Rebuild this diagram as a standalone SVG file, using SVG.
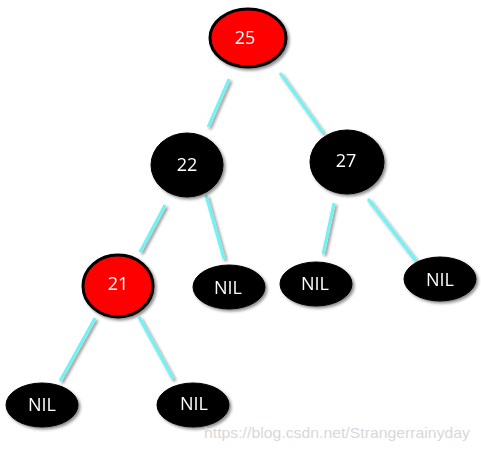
<svg xmlns="http://www.w3.org/2000/svg" width="481" height="450" viewBox="0 0 481 450">
<defs>
<filter id="sh" x="-30%" y="-30%" width="160%" height="160%">
<feDropShadow dx="2" dy="2" stdDeviation="1.5" flood-color="#000" flood-opacity="0.45"/>
</filter>
</defs>
<style>
.red{fill:#ff0000;stroke:#000;stroke-width:3}
.blk{fill:#000;stroke:#000;stroke-width:1}
.lbl{fill:#fff;font-family:"Open Sans","DejaVu Sans",sans-serif;font-size:18px;text-anchor:middle;dominant-baseline:central}
.edge{stroke:#6ef4f4;stroke-width:3;stroke-linecap:butt}
.wm{fill:#d8d8d8;font-family:"Liberation Sans",Arial,sans-serif;font-size:15px}
</style>
<rect width="481" height="450" fill="#fff"/>
<g id="connectors" filter="url(#sh)">
<line class="edge" x1="229" y1="79" x2="208" y2="127"/>
<line class="edge" x1="280" y1="73" x2="323" y2="133"/>
<line class="edge" x1="165" y1="205" x2="140" y2="252"/>
<line class="edge" x1="206" y1="195" x2="224" y2="259"/>
<line class="edge" x1="334" y1="203" x2="323" y2="254"/>
<line class="edge" x1="368" y1="199" x2="416" y2="261"/>
<line class="edge" x1="95" y1="318" x2="60" y2="381"/>
<line class="edge" x1="139" y1="317" x2="173" y2="379"/>
</g>
<g id="n25" filter="url(#sh)"><ellipse class="red" cx="248" cy="38" rx="38" ry="29"/><text class="lbl" x="245" y="37">25</text></g>
<g id="n22" filter="url(#sh)"><ellipse class="blk" cx="187" cy="165" rx="36" ry="32"/><text class="lbl" x="187" y="164">22</text></g>
<g id="n27" filter="url(#sh)"><ellipse class="blk" cx="347" cy="162" rx="37" ry="32"/><text class="lbl" x="346" y="160">27</text></g>
<g id="n21" filter="url(#sh)"><ellipse class="red" cx="118" cy="286" rx="35" ry="31"/><text class="lbl" x="118" y="283">21</text></g>
<g id="nil22" filter="url(#sh)"><ellipse class="blk" cx="229" cy="287" rx="36" ry="22"/><text class="lbl" x="228" y="287">NIL</text></g>
<g id="nil27l" filter="url(#sh)"><ellipse class="blk" cx="316" cy="284" rx="36" ry="22"/><text class="lbl" x="315" y="283">NIL</text></g>
<g id="nil27r" filter="url(#sh)"><ellipse class="blk" cx="440" cy="279" rx="36" ry="22"/><text class="lbl" x="440" y="279">NIL</text></g>
<g id="nil21l" filter="url(#sh)"><ellipse class="blk" cx="42" cy="405" rx="36" ry="22"/><text class="lbl" x="42" y="404">NIL</text></g>
<g id="nil21r" filter="url(#sh)"><ellipse class="blk" cx="193" cy="405" rx="36" ry="22"/><text class="lbl" x="194" y="403">NIL</text></g>
<text class="wm" x="204" y="438" textLength="266" lengthAdjust="spacingAndGlyphs">https://blog.csdn.net/Strangerrainyday</text>
</svg>
